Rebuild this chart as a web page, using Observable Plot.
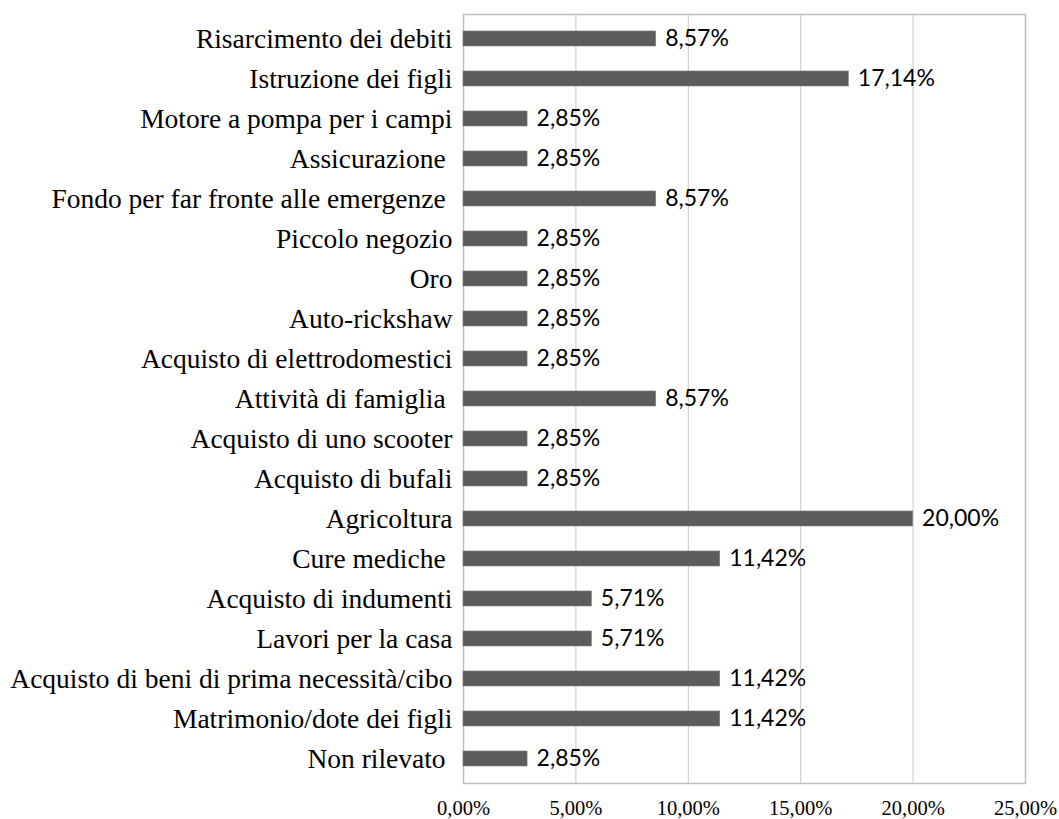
<!DOCTYPE html>
<html>
<head>
<meta charset="utf-8">
<script src="https://cdn.jsdelivr.net/npm/d3@7"></script>
<script src="https://cdn.jsdelivr.net/npm/@observablehq/plot@0.6"></script>
<style>
  html, body { margin: 0; padding: 0; background: #fff; }
  #chart svg text { white-space: pre; }
</style>
</head>
<body>
<div id="chart"></div>
<script>
const categories = [
  "Risarcimento dei debiti",
  "Istruzione dei figli",
  "Motore a pompa per i campi",
  "Assicurazione ",
  "Fondo per far fronte alle emergenze ",
  "Piccolo negozio",
  "Oro",
  "Auto-rickshaw",
  "Acquisto di elettrodomestici",
  "Attività di famiglia ",
  "Acquisto di uno scooter",
  "Acquisto di bufali",
  "Agricoltura",
  "Cure mediche ",
  "Acquisto di indumenti",
  "Lavori per la casa",
  "Acquisto di beni di prima necessità/cibo",
  "Matrimonio/dote dei figli",
  "Non rilevato "
];
const values = [8.57, 17.14, 2.85, 2.85, 8.57, 2.85, 2.85, 2.85, 2.85, 8.57, 2.85, 2.85, 20.00, 11.42, 5.71, 5.71, 11.42, 11.42, 2.85];
const xTicks = [0, 5, 10, 15, 20, 25];

const data = categories.map((c, i) => ({category: c, value: values[i]}));
const fmt = v => v.toFixed(2).replace(".", ",") + "%";

const chart = Plot.plot({
  width: 1059,
  height: 819,
  marginLeft: 463,
  marginRight: 34,
  marginTop: 14,
  marginBottom: 36,
  style: {fontFamily: "'Liberation Serif', 'Times New Roman', serif", color: "#000", background: "#fff"},
  x: {domain: [0, 25], ticks: xTicks, tickFormat: fmt, label: null},
  y: {domain: categories, paddingInner: 0.63, paddingOuter: 0.315, label: null},
  marks: [
    Plot.gridX([5, 10, 15, 20], {stroke: "#c8c8c8", strokeOpacity: 1, strokeWidth: 1}),
    Plot.frame({stroke: "#bdbdbd", strokeWidth: 1.5}),
    Plot.barX(data, {x: "value", y: "category", fill: "#5c5c5c", stroke: "#7a7a7a", strokeWidth: 0.6}),
    Plot.axisX({ticks: xTicks, tickFormat: fmt, tickSize: 0, tickPadding: 17, fontSize: 20.5, label: null}),
    Plot.axisY({tickSize: 0, tickPadding: 11, fontSize: 27.5, label: null}),
    Plot.text(data, {x: "value", y: "category", text: d => fmt(d.value), textAnchor: "start", dx: 9, fontSize: 23, fontFamily: "Lato, 'Open Sans', sans-serif", fill: "#000"})
  ]
});
document.getElementById("chart").appendChild(chart);
</script>
</body>
</html>
